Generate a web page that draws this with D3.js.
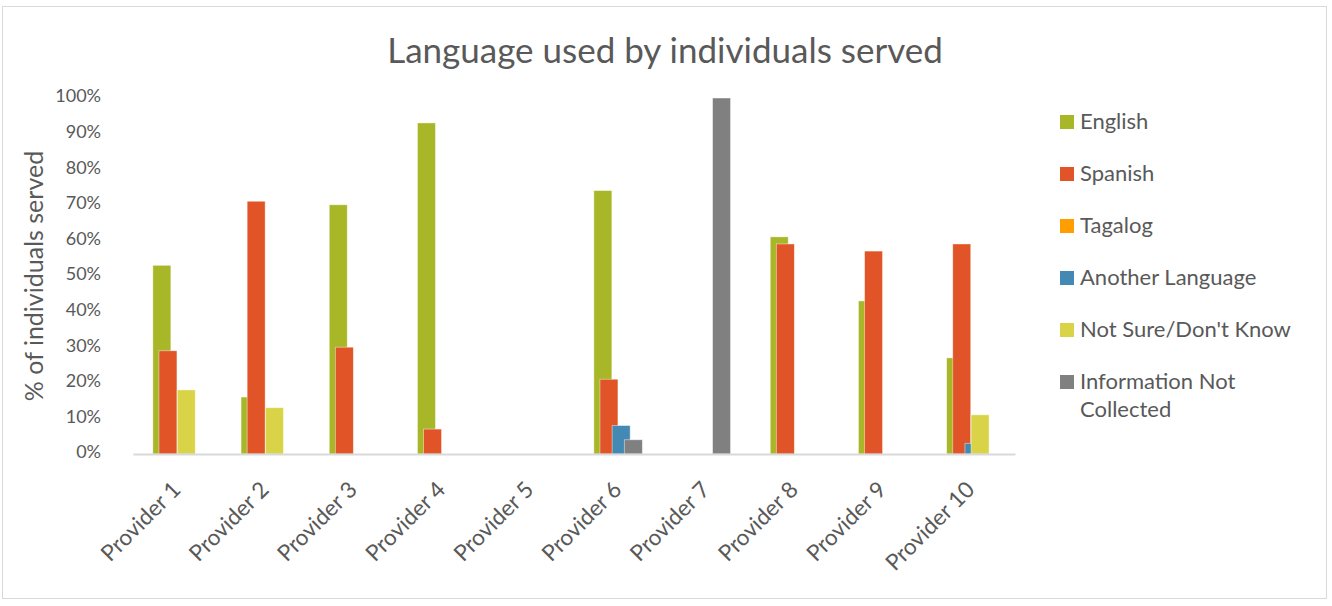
<!DOCTYPE html>
<html>
<head>
<meta charset="utf-8">
<script src="https://cdn.jsdelivr.net/npm/d3@7"></script>
<style>
  html, body { margin: 0; padding: 0; background: #fff; }
  svg { display: block; }
  text { font-family: Lato, "Open Sans", sans-serif; fill: #595959; }
</style>
</head>
<body>
<svg id="chart" width="1332" height="606"></svg>
<script>
// Categories and series
const providers = ["Provider 1", "Provider 2", "Provider 3", "Provider 4", "Provider 5",
                   "Provider 6", "Provider 7", "Provider 8", "Provider 9", "Provider 10"];
const seriesNames = ["English", "Spanish", "Tagalog", "Another Language",
                     "Not Sure/Don't Know", "Information Not Collected"];
const seriesColors = ["#A7B727", "#E05427", "#FF9E00", "#4489B4", "#D9D447", "#808080"];

// Share of individuals served (fractions) per provider
const english       = [0.53, 0.16, 0.70, 0.93, 0, 0.74, 0,    0.61, 0.43, 0.27];
const spanish       = [0.29, 0.71, 0.30, 0.07, 0, 0.21, 0,    0.59, 0.57, 0.59];
const tagalog       = [0,    0,    0,    0,    0, 0,    0,    0,    0,    0   ];
const another       = [0,    0,    0,    0,    0, 0.08, 0,    0,    0,    0.03];
const notSure       = [0.18, 0.13, 0,    0,    0, 0,    0,    0,    0,    0.11];
const notCollected  = [0,    0,    0,    0,    0, 0.04, 1.00, 0,    0,    0   ];
const seriesValues = [english, spanish, tagalog, another, notSure, notCollected];

const yTicks = [0, 0.1, 0.2, 0.3, 0.4, 0.5, 0.6, 0.7, 0.8, 0.9, 1.0];

const svg = d3.select("#chart");

// Chart frame
svg.append("rect")
  .attr("x", 2.5).attr("y", 6.5).attr("width", 1324).attr("height", 592)
  .attr("fill", "#fff").attr("stroke", "#d9d9d9").attr("stroke-width", 1);

const plot = { left: 133, right: 1015, top: 98, bottom: 454 };

const x = d3.scaleBand().domain(providers).range([plot.left, plot.right]).padding(0);
const y = d3.scaleLinear().domain([0, 1]).range([plot.bottom, plot.top]);

// Overlapping clustered bars: each series shifted by a fraction of the bar width
const barW = 18;
const step = 6.1;
const groupW = step * (seriesNames.length - 1) + barW;

const g = svg.append("g");
seriesValues.forEach((vals, si) => {
  g.append("g").selectAll("rect")
    .data(vals.map((v, i) => ({ v, p: providers[i] })))
    .join("rect")
    .filter(d => d.v > 0)
    .attr("x", d => x(d.p) + x.bandwidth() / 2 - groupW / 2 + si * step)
    .attr("y", d => y(d.v))
    .attr("width", barW)
    .attr("height", d => y(0) - y(d.v))
    .attr("fill", seriesColors[si])
    .attr("stroke", "rgba(255,255,255,0.55)")
    .attr("stroke-width", 0.8);
});

// X axis line and rotated category labels
const xAxis = d3.axisBottom(x).tickSize(0).tickPadding(0);
const xg = svg.append("g").attr("transform", `translate(0,${plot.bottom})`).call(xAxis);
xg.select(".domain").attr("stroke", "#d9d9d9").attr("stroke-width", 2);
xg.selectAll(".tick text")
  .attr("font-size", 22.5)
  .attr("text-anchor", "end")
  .attr("dy", 0)
  .attr("y", 0)
  .attr("transform", "translate(5,37) rotate(-45)")
  .style("fill", "#595959");

// Y axis labels
const yAxis = d3.axisLeft(y).tickValues(yTicks).tickFormat(d3.format(".0%")).tickSize(0).tickPadding(0);
const yg = svg.append("g").attr("transform", `translate(101,0)`).call(yAxis);
yg.select(".domain").remove();
yg.selectAll(".tick text").attr("font-size", 18).attr("dy", "0.22em").style("fill", "#595959");

// Title
svg.append("text")
  .attr("x", 665).attr("y", 63)
  .attr("text-anchor", "middle")
  .attr("font-size", 35)
  .text("Language used by individuals served");

// Y axis title
svg.append("text")
  .attr("transform", "translate(43,276) rotate(-90)")
  .attr("text-anchor", "middle")
  .attr("font-size", 25)
  .text("% of individuals served");

// Legend
const legend = svg.append("g").attr("transform", "translate(1060,0)");
const rowY = [122, 174, 226, 278, 330, 382];
seriesNames.forEach((name, i) => {
  const row = legend.append("g").attr("transform", `translate(0,${rowY[i]})`);
  row.append("rect").attr("x", 0).attr("y", -7).attr("width", 14).attr("height", 14)
    .attr("fill", seriesColors[i]);
  const t = row.append("text").attr("x", 20).attr("y", 7).attr("font-size", 22);
  if (name === "Information Not Collected") {
    t.append("tspan").attr("x", 20).text("Information Not");
    t.append("tspan").attr("x", 20).attr("dy", 28).text("Collected");
  } else {
    t.text(name);
  }
});
</script>
</body>
</html>
